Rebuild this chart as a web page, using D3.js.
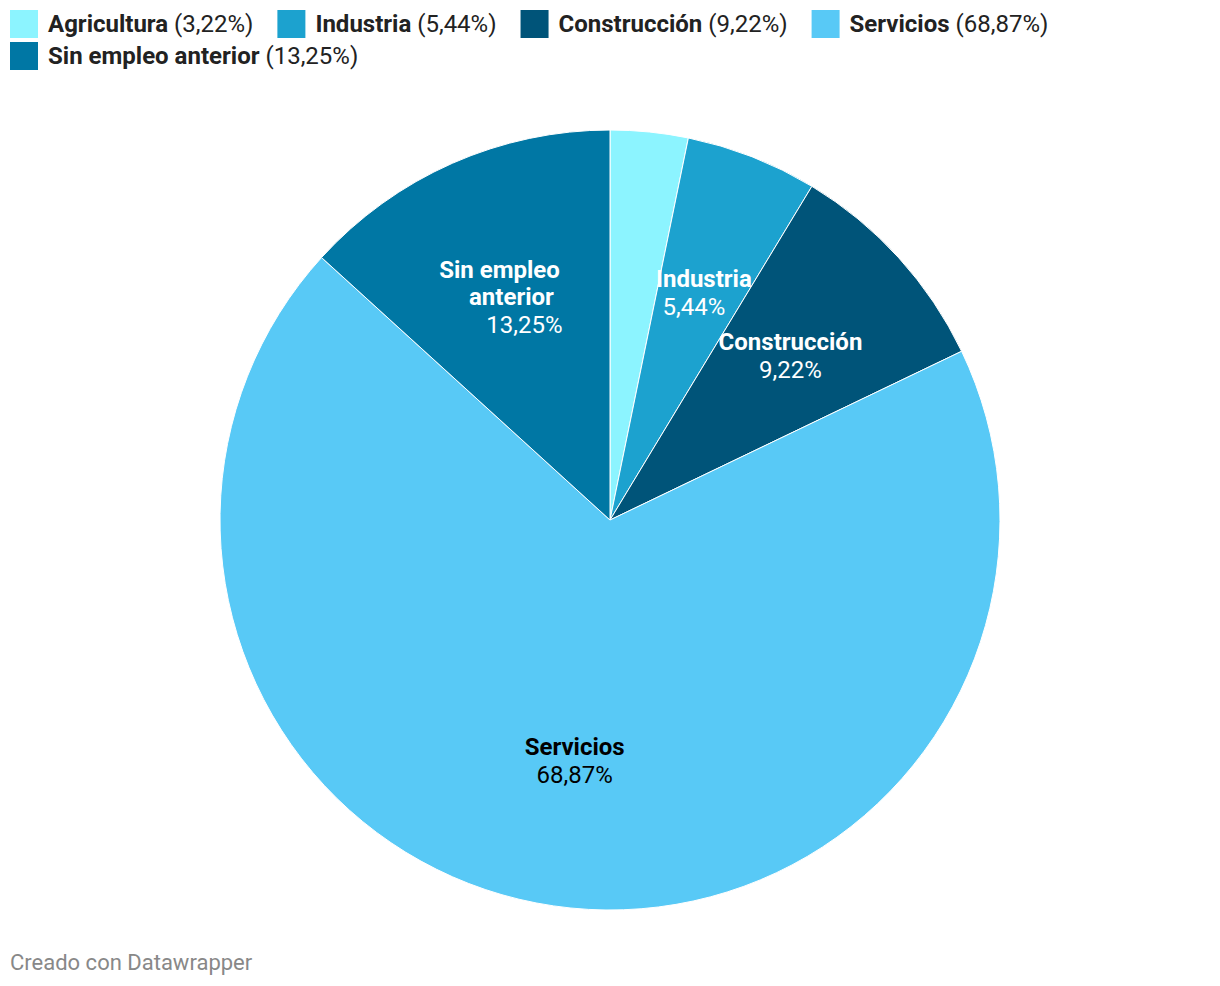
<!DOCTYPE html>
<html><head><meta charset="utf-8">
<script src="https://cdn.jsdelivr.net/npm/d3@7"></script>
<style>body{margin:0;background:#fff;font-family:Roboto,sans-serif;}</style>
</head><body>
<svg id="c" width="1220" height="986"></svg>
<script>
const categories = ["Agricultura","Industria","Construcción","Servicios","Sin empleo anterior"];
const values = [3.22, 5.44, 9.22, 68.87, 13.25];
const valueLabels = ["3,22%","5,44%","9,22%","68,87%","13,25%"];
const labelLines = [[], ["Industria"], ["Construcción"], ["Servicios"], ["Sin empleo","anterior"]];
const colors = ["#8cf4ff","#1ca2cf","#005479","#58c9f6","#0077a4"];
const labelColors = ["#fff","#fff","#fff","#000","#fff"];

const svg = d3.select("#c");
const W = 1220;
const cx = 610, cy = 520, R = 390;

// Legend
const leg = svg.append("g");
let x = 10, row = 0;
categories.forEach((c,i)=>{
  const g = leg.append("g");
  g.append("rect").attr("x",0).attr("y",0).attr("width",28).attr("height",28).attr("fill",colors[i]);
  const t = g.append("text").attr("x",38).attr("y",22).attr("font-size",24).attr("fill","#222");
  t.append("tspan").attr("font-weight","bold").text(c);
  t.append("tspan").text(" (" + valueLabels[i] + ")");
  const w = 38 + t.node().getComputedTextLength();
  if (x + w > W - 10) { x = 10; row++; }
  g.attr("transform",`translate(${x},${10 + row*32})`);
  x += w + 24;
});

// Pie
const pie = d3.pie().sort(null).value(d=>d)(values);
const arc = d3.arc().innerRadius(0).outerRadius(R);
const labelArc = d3.arc().innerRadius(R*0.625).outerRadius(R*0.625);
const g = svg.append("g").attr("transform",`translate(${cx},${cy})`);
g.selectAll("path").data(pie).join("path")
  .attr("d",arc).attr("fill",(d,i)=>colors[i]).attr("stroke","#fff").attr("stroke-width",1);

const lineOffsets = [[],[5],[0],[0],[-12,0]];
const pctOffsets = [0,-5,0,0,13];
pie.forEach((d,i)=>{
  if (!labelLines[i].length) return;
  const [lx,ly] = labelArc.centroid(d);
  const lines = labelLines[i];
  const n = lines.length + 1;
  const lh = 27.5;
  const y0 = ly - (n-1)*lh/2 + 8;
  const t = g.append("text").attr("text-anchor","middle").attr("font-size",24).attr("fill",labelColors[i]);
  lines.forEach((ln,k)=>{
    t.append("tspan").attr("x",lx + lineOffsets[i][k]).attr("y",y0 + k*lh).attr("font-weight","bold").text(ln);
  });
  t.append("tspan").attr("x",lx + pctOffsets[i]).attr("y",y0 + lines.length*lh).text(valueLabels[i]);
});

svg.append("text").attr("x",10).attr("y",970).attr("font-size",22).attr("fill","#888").text("Creado con Datawrapper");
</script>
</body></html>
